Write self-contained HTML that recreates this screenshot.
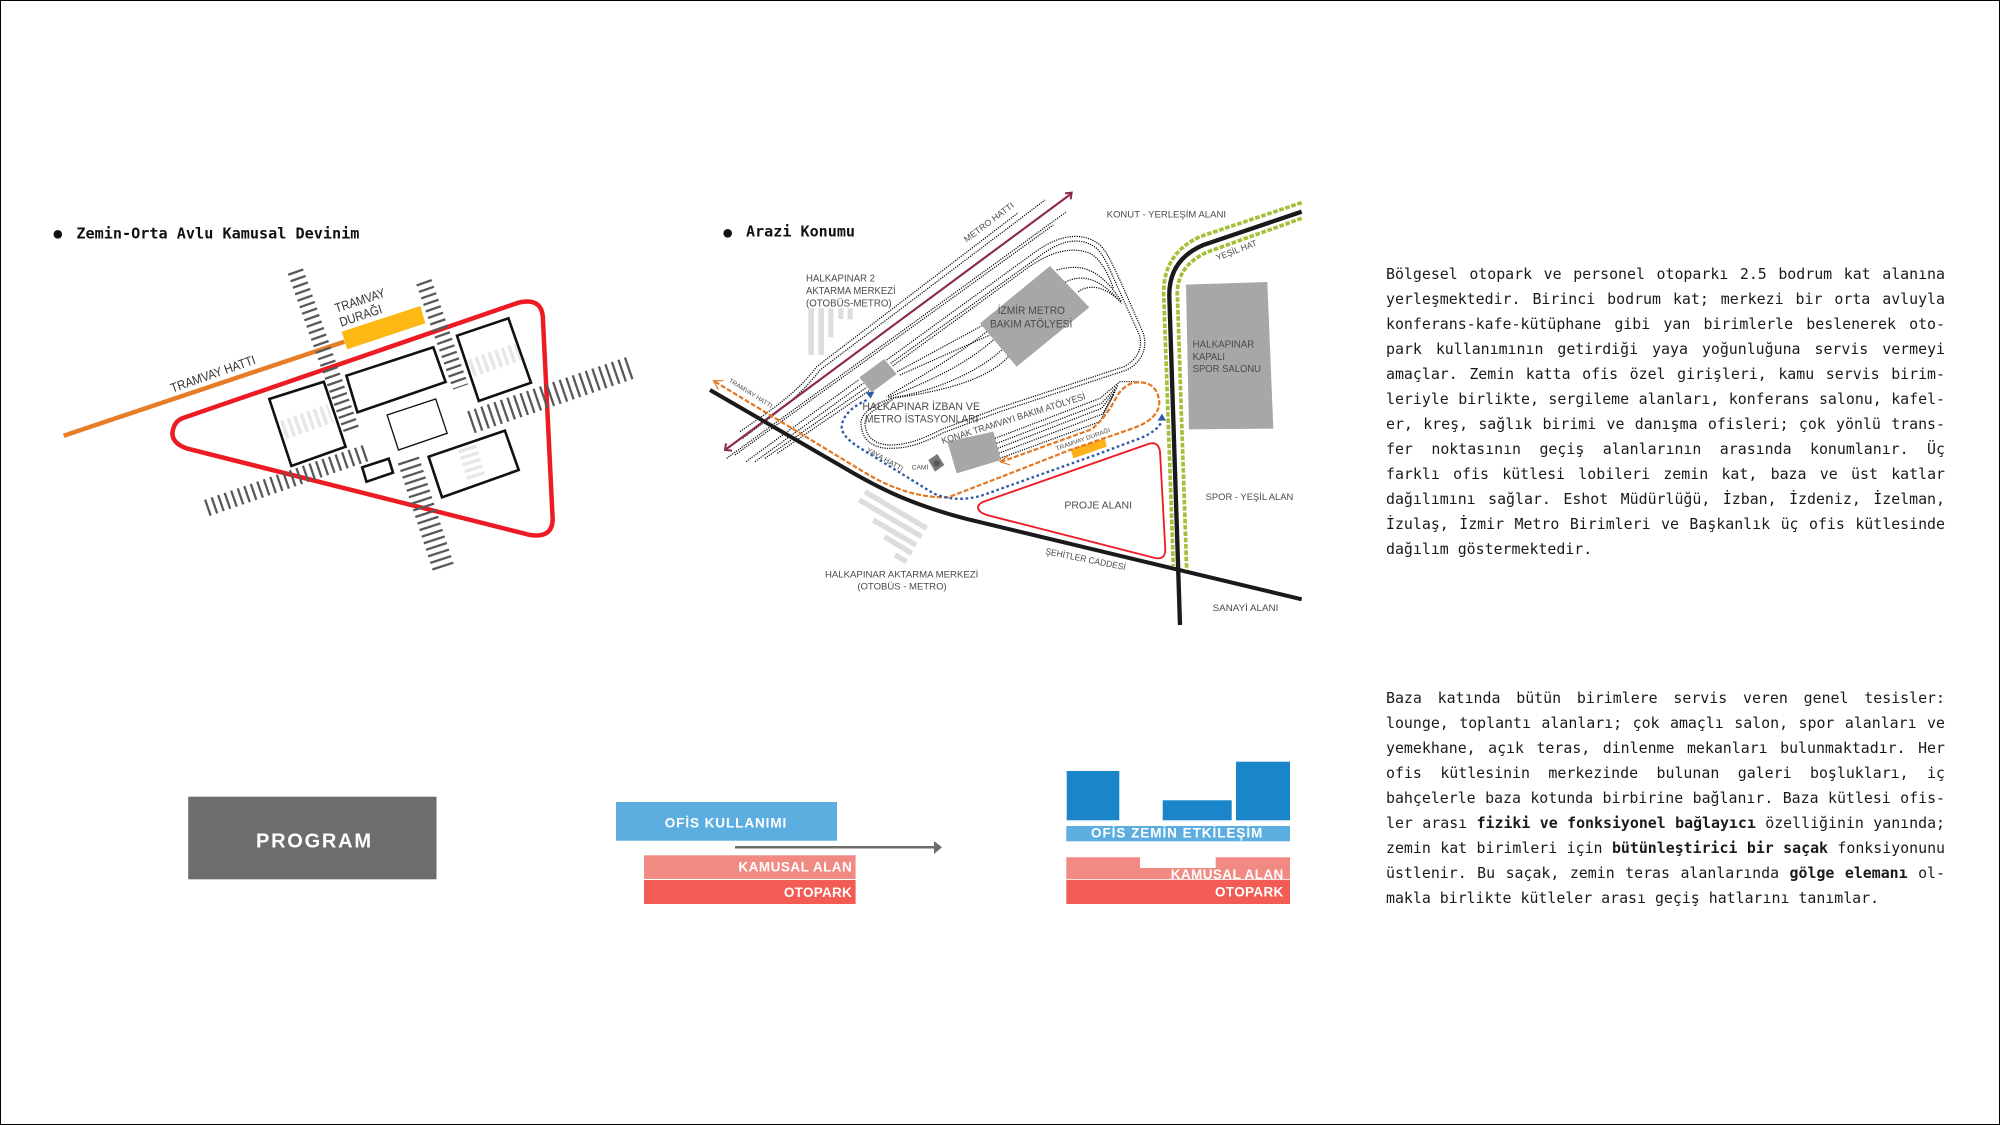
<!DOCTYPE html>
<html lang="tr"><head><meta charset="utf-8"><title>Diagram</title>
<style>
html,body{margin:0;padding:0;background:#fff}
#p{position:relative;width:2000px;height:1125px;overflow:hidden;background:#fff}
#p svg{position:absolute;left:0;top:0}
#f{position:absolute;left:0;top:0;width:2000px;height:1125px;box-sizing:border-box;border:1px solid #000;pointer-events:none}
.b{position:absolute;left:1386px;width:559px;font:14.9px/25px "DejaVu Sans Mono","Liberation Mono",monospace;color:#1a1a1a}
.b div{white-space:nowrap;text-align:justify;text-align-last:justify}
.b div.l{text-align-last:left}
.m text{font-family:"Liberation Sans",sans-serif;fill:#4a4a4c}
.w{font-family:"Liberation Sans",sans-serif;font-weight:bold;fill:#fff}
.h{font-family:"DejaVu Sans Mono","Liberation Mono",monospace;font-weight:bold;fill:#111}
.d path{fill:none;stroke:#000;stroke-width:3.6;stroke-dasharray:3.5 3.5}
</style></head><body><div id="p">
<svg width="2000" height="1125" viewBox="0 0 2000 1125" xmlns="http://www.w3.org/2000/svg">
<!-- Diagram 1 -->
<circle cx="57.8" cy="234.3" r="4.3" fill="#111"/>
<text class="h" x="76.4" y="238.3" font-size="15" textLength="283" lengthAdjust="spacingAndGlyphs">Zemin-Orta Avlu Kamusal Devinim</text>
<g fill="none">
<g stroke="#e6e7e8" stroke-dasharray="3.5 3.4">
<line x1="283.1" y1="430" x2="330.5" y2="413.3" stroke-width="19"/>
<line x1="470.9" y1="368.3" x2="518.3" y2="351.7" stroke-width="18"/>
<line x1="466.9" y1="447.3" x2="476.8" y2="479.3" stroke-width="19"/>
</g>
<line x1="63.7" y1="435.7" x2="344.4" y2="341.7" stroke="#e67e28" stroke-width="4.5"/>
<polygon points="341.6,331.7 420.3,306 425.4,323.3 347.2,349.3" fill="#fdb813"/>
<g stroke="#111" stroke-width="2.6">
<polygon points="269.3,399 323.8,381.7 345.6,446.7 291.4,466"/>
<polygon points="346.4,375.7 433.3,347.3 445.6,382 357.4,412.3"/>
<polygon points="457,335.7 508.4,318.3 531,382.7 478.8,401"/>
<polygon points="362.2,467.3 388.7,458.7 393,472.7 366.5,481.7"/>
<polygon points="428.6,456.7 504.9,430.7 518.7,470 442,497.3"/>
<polygon points="387.1,415 435.7,399 447.2,433.3 398.5,450" stroke-width="1.3"/>
</g>
<path d="M182.3,418.3 L518.3,302.7 Q541.2,297.3 542.8,316.7 L552.7,520 Q551.9,538.3 530.2,535 L186.3,448.3 Q172.4,443.3 172.4,433.3 Q173.6,421.7 182.3,418.3 Z" stroke="#ed1c24" stroke-width="4.5"/>
<g stroke="#58595b" stroke-dasharray="2.3 4.6">
<line x1="295.4" y1="271" x2="351.9" y2="431.3" stroke-width="16"/>
<line x1="423.8" y1="281.7" x2="460.6" y2="387" stroke-width="16"/>
<line x1="470.9" y1="422.3" x2="631" y2="367.6" stroke-width="23"/>
<line x1="206.8" y1="508" x2="368" y2="452.3" stroke-width="17"/>
<line x1="408.4" y1="460" x2="443.2" y2="567.3" stroke-width="22"/>
</g>
</g>
<g font-family="Liberation Sans,sans-serif" fill="#333" font-size="13">
<text transform="translate(172.4,392.7) rotate(-19.2)" textLength="89" lengthAdjust="spacingAndGlyphs">TRAMVAY HATTI</text>
<text transform="translate(336.5,312.7) rotate(-18)" textLength="52" lengthAdjust="spacingAndGlyphs">TRAMVAY</text>
<text transform="translate(341.2,326.7) rotate(-18.5)" textLength="44" lengthAdjust="spacingAndGlyphs">DURAĞI</text>
</g>
<!-- Diagram 2 -->
<circle cx="727.7" cy="233.3" r="4.3" fill="#111"/>
<text class="h" x="746" y="236.7" font-size="15" textLength="109" lengthAdjust="spacingAndGlyphs">Arazi Konumu</text>
<g transform="translate(700,190) scale(.33333)" class="m">
<g fill="#dcddde"><rect x="325" y="355" width="17" height="140"/><rect x="355" y="355" width="17" height="140"/><rect x="385" y="355" width="15" height="87"/><rect x="415" y="355" width="15" height="32"/><rect x="443" y="355" width="15" height="33"/></g>
<g stroke="#dcddde" stroke-width="16"><line x1="495" y1="905" x2="680" y2="1015"/><line x1="478" y1="930" x2="665" y2="1040"/><line x1="520" y1="990" x2="648" y2="1065"/><line x1="553" y1="1040" x2="635" y2="1090"/><line x1="585" y1="1095" x2="620" y2="1115"/></g>
<g class="d">
<path d="M120,725 C220,655 290,610 350,530 L955,68"/>
<path d="M128,745 C225,672 300,620 360,540 L1035,30"/>
<path d="M80,805 L1100,65"/>
<path d="M105,795 L1060,105"/>
<path d="M138,815 L478,568"/><path d="M165,815 L490,580"/><path d="M195,805 L500,592"/><path d="M232,790 L510,600"/>
<path d="M560,510 L1000,190 C1080,130 1150,125 1200,165 C1225,190 1240,230 1262,275 L1330,430 C1345,480 1320,520 1280,540 L900,665 L730,728 C640,775 600,775 560,775 C505,770 485,740 483,700 C483,665 530,640 575,625"/>
<path d="M572,520 L1010,205 C1085,145 1145,140 1190,175 C1215,200 1230,240 1250,285 L1318,435 C1330,475 1310,510 1272,530 L893,655 L725,718 C640,762 600,765 565,765 C515,760 497,735 495,700 C495,672 535,650 580,628"/>
<path d="M578,528 L985,232 C1060,180 1120,170 1170,190 C1200,205 1225,250 1240,295"/>
<path d="M592,545 L850,405"/><path d="M600,555 L870,435"/>
<path d="M1070,240 C1130,225 1190,220 1265,335"/><path d="M1090,280 C1130,255 1190,250 1265,340"/><path d="M1135,305 C1170,280 1220,290 1265,340"/>
<path d="M925,500 C870,560 760,600 575,625"/><path d="M905,480 C840,540 720,600 570,625"/><path d="M880,450 C800,520 700,570 565,622"/><path d="M860,425 C780,490 680,550 560,620"/>
<path d="M885,745 L1200,625 L1260,575 L1320,575"/><path d="M890,760 L1205,640 L1255,585"/><path d="M893,775 L1205,655 L1250,595"/><path d="M896,790 L1208,672 L1245,605"/><path d="M900,805 L1200,695 L1240,615"/>
</g>
<g fill="#a8a7a8">
<polygon points="1458,284 1702,276 1720,716 1467,718"/>
<polygon points="1050,228 1168,352 950,530 840,400"/>
<polygon points="478,562 553,507 590,552 515,607"/>
<polygon points="742,755 880,725 903,810 770,850"/>
</g>
<polygon points="685,810 712,792 733,825 705,845" fill="#77787b"/><circle cx="710" cy="820" r="10" fill="#58595b"/>
<polygon points="1112,778 1215,745 1220,770 1120,805" fill="#fbb117"/>
<path d="M860,932 L1345,762 Q1375,752 1380,785 L1396,1080 Q1395,1110 1365,1104 L860,975 Q832,965 834,950 Q838,938 860,932 Z" fill="none" stroke="#ed1c24" stroke-width="5.5"/>
<g fill="none">
<path d="M75,780 L1115,10" stroke="#8b2a4a" stroke-width="6.5"/>
<polyline points="78,760 75,780 96,782" stroke="#8b2a4a" stroke-width="6"/>
<polyline points="1095,10 1115,8 1112,28" stroke="#8b2a4a" stroke-width="6"/>
<path d="M30,600 L470,855 C550,900 640,945 800,987 L1805,1228" stroke="#1a1a1a" stroke-width="12"/>
<path d="M1805,38 L1500,140 Q1390,190 1391,310 L1420,1128" stroke="#a3c03a" stroke-width="11" stroke-dasharray="14 5"/>
<path d="M1805,85 L1525,185 Q1432,225 1432,310 L1460,1140" stroke="#a3c03a" stroke-width="11" stroke-dasharray="14 5"/>
<path d="M1805,65 L1510,165 Q1405,210 1408,320 L1440,1305" stroke="#1a1a1a" stroke-width="13"/>
<path d="M45,575 L490,845 Q620,925 745,922 L900,862 L1110,780 L1290,718 Q1375,690 1378,640 Q1375,585 1330,578 Q1280,570 1250,620 Q1220,680 1175,718 L905,815" stroke="#e5761f" stroke-width="6.5" stroke-dasharray="15 6"/>
<polyline points="70,572 40,572 55,598" stroke="#e5761f" stroke-width="3.5"/>
<polyline points="925,797 900,815 930,825" stroke="#e5761f" stroke-width="3.5"/>
<path d="M500,630 Q425,665 425,715 Q430,745 490,780 L700,910 Q770,940 850,915 L1200,790 L1320,745 Q1370,725 1385,695" stroke="#2f5aa8" stroke-width="7" stroke-dasharray="8 8"/>
</g>
<polygon points="497,607 523,605 512,626" fill="#2f5aa8"/>
<polygon points="1373,692 1398,692 1386,671" fill="#2f5aa8"/>
<g font-size="30">
<text x="318" y="275" textLength="207" lengthAdjust="spacingAndGlyphs">HALKAPINAR 2</text>
<text x="318" y="312" textLength="269" lengthAdjust="spacingAndGlyphs">AKTARMA MERKEZİ</text>
<text x="318" y="350" textLength="257" lengthAdjust="spacingAndGlyphs">(OTOBÜS-METRO)</text>
<text transform="translate(800,158) rotate(-37)" font-size="26" textLength="180" lengthAdjust="spacingAndGlyphs">METRO HATTI</text>
<text x="487" y="660" font-size="33" textLength="353" lengthAdjust="spacingAndGlyphs">HALKAPINAR İZBAN VE</text>
<text x="495" y="698" font-size="33" textLength="340" lengthAdjust="spacingAndGlyphs">METRO İSTASYONLARI</text>
<text transform="translate(728,762) rotate(-17.4)" font-size="28" textLength="451" lengthAdjust="spacingAndGlyphs">KONAK TRAMVAYI BAKIM ATÖLYESİ</text>
<text x="893" y="372" font-size="32" textLength="202" lengthAdjust="spacingAndGlyphs">İZMİR METRO</text>
<text x="870" y="412" font-size="32" textLength="247" lengthAdjust="spacingAndGlyphs">BAKIM ATÖLYESİ</text>
<text transform="translate(85,575) rotate(32)" font-size="19" textLength="150" lengthAdjust="spacingAndGlyphs">TRAMVAY HATTI</text>
<text transform="translate(498,785) rotate(29)" font-size="22" textLength="122" lengthAdjust="spacingAndGlyphs">YAYA HATTI</text>
<text x="635" y="838" font-size="20" textLength="50" lengthAdjust="spacingAndGlyphs">CAMİ</text>
<text x="1220" y="83" font-size="28" textLength="358" lengthAdjust="spacingAndGlyphs">KONUT - YERLEŞİM ALANI</text>
<text transform="translate(1552,212) rotate(-21)" font-size="26" textLength="129" lengthAdjust="spacingAndGlyphs">YEŞİL HAT</text>
<text x="1478" y="472" textLength="185" lengthAdjust="spacingAndGlyphs">HALKAPINAR</text>
<text x="1478" y="510" textLength="97" lengthAdjust="spacingAndGlyphs">KAPALI</text>
<text x="1478" y="546" textLength="205" lengthAdjust="spacingAndGlyphs">SPOR SALONU</text>
<text transform="translate(1070,782) rotate(-19.4)" font-size="18" textLength="172" lengthAdjust="spacingAndGlyphs">TRAMVAY DURAĞI</text>
<text x="1093" y="955" textLength="203" lengthAdjust="spacingAndGlyphs">PROJE ALANI</text>
<text x="1517" y="930" font-size="28" textLength="263" lengthAdjust="spacingAndGlyphs">SPOR - YEŞİL ALAN</text>
<text x="1538" y="1263" font-size="28" textLength="197" lengthAdjust="spacingAndGlyphs">SANAYİ ALANI</text>
<text transform="translate(1035,1092) rotate(11.5)" font-size="27" textLength="245" lengthAdjust="spacingAndGlyphs">ŞEHİTLER CADDESİ</text>
<text x="375" y="1162" font-size="27" textLength="460" lengthAdjust="spacingAndGlyphs">HALKAPINAR AKTARMA MERKEZİ</text>
<text x="472" y="1198" font-size="27" textLength="268" lengthAdjust="spacingAndGlyphs">(OTOBÜS - METRO)</text>
</g>
</g>
<!-- Program -->
<rect x="188.2" y="796.7" width="248.3" height="82.6" fill="#6d6d6d"/>
<text class="w" x="256" y="847.3" font-size="20" textLength="115" lengthAdjust="spacing">PROGRAM</text>
<rect x="616" y="802" width="221" height="38.7" fill="#5caee0"/>
<text class="w" x="664.7" y="827.3" font-size="13.5" textLength="121.6" lengthAdjust="spacing">OFİS KULLANIMI</text>
<rect x="644" y="855.3" width="211.6" height="23.7" fill="#f08a82"/>
<rect x="644" y="880" width="211.6" height="24" fill="#f25c54"/>
<text class="w" x="738.4" y="871.3" font-size="13.5" textLength="113.4" lengthAdjust="spacing">KAMUSAL ALAN</text>
<text class="w" x="783.9" y="897" font-size="13.5" textLength="67.9" lengthAdjust="spacing">OTOPARK</text>
<line x1="735" y1="847.3" x2="936" y2="847.3" stroke="#6d6d6d" stroke-width="2.5"/>
<polygon points="934,841 942,847.3 934,854" fill="#6d6d6d"/>
<g fill="#1a85c8"><rect x="1066.7" y="771" width="52.6" height="49.3"/><rect x="1162.7" y="800.3" width="69" height="20"/><rect x="1236" y="761.7" width="54" height="58.6"/></g>
<rect x="1066.3" y="826" width="223.7" height="15.3" fill="#5caee0"/>
<text class="w" x="1091" y="837.3" font-size="13.5" textLength="171.3" lengthAdjust="spacing">OFİS ZEMİN ETKİLEŞİM</text>
<polygon points="1066.3,857.3 1140,857.3 1140,868 1215.7,868 1215.7,857.3 1290,857.3 1290,879.3 1066.3,879.3" fill="#f08a82"/>
<rect x="1066.3" y="880" width="223.7" height="24" fill="#f25c54"/>
<text class="w" x="1170.7" y="879" font-size="13.5" textLength="112.6" lengthAdjust="spacing">KAMUSAL ALAN</text>
<text class="w" x="1215" y="896.7" font-size="13.5" textLength="68.3" lengthAdjust="spacing">OTOPARK</text>
</svg>
<div class="b" style="top:261.5px">
<div>Bölgesel otopark ve personel otoparkı 2.5 bodrum kat alanına</div>
<div>yerleşmektedir. Birinci bodrum kat; merkezi bir orta avluyla</div>
<div>konferans-kafe-kütüphane gibi yan birimlerle beslenerek oto-</div>
<div>park kullanımının getirdiği yaya yoğunluğuna servis vermeyi</div>
<div>amaçlar. Zemin katta ofis özel girişleri, kamu servis birim-</div>
<div>leriyle birlikte, sergileme alanları, konferans salonu, kafel-</div>
<div>er, kreş, sağlık birimi ve danışma ofisleri; çok yönlü trans-</div>
<div>fer noktasının geçiş alanlarının arasında konumlanır. Üç</div>
<div>farklı ofis kütlesi lobileri zemin kat, baza ve üst katlar</div>
<div>dağılımını sağlar. Eshot Müdürlüğü, İzban, İzdeniz, İzelman,</div>
<div>İzulaş, İzmir Metro Birimleri ve Başkanlık üç ofis kütlesinde</div>
<div class="l">dağılım göstermektedir.</div>
</div>
<div class="b" style="top:685.8px">
<div>Baza katında bütün birimlere servis veren genel tesisler:</div>
<div>lounge, toplantı alanları; çok amaçlı salon, spor alanları ve</div>
<div>yemekhane, açık teras, dinlenme mekanları bulunmaktadır. Her</div>
<div>ofis kütlesinin merkezinde bulunan galeri boşlukları, iç</div>
<div>bahçelerle baza kotunda birbirine bağlanır. Baza kütlesi ofis-</div>
<div>ler arası <b>fiziki ve fonksiyonel bağlayıcı</b> özelliğinin yanında;</div>
<div>zemin kat birimleri için <b>bütünleştirici bir saçak</b> fonksiyonunu</div>
<div>üstlenir. Bu saçak, zemin teras alanlarında <b>gölge elemanı</b> ol-</div>
<div class="l">makla birlikte kütleler arası geçiş hatlarını tanımlar.</div>
</div>
<div id="f"></div>
</div></body></html>
